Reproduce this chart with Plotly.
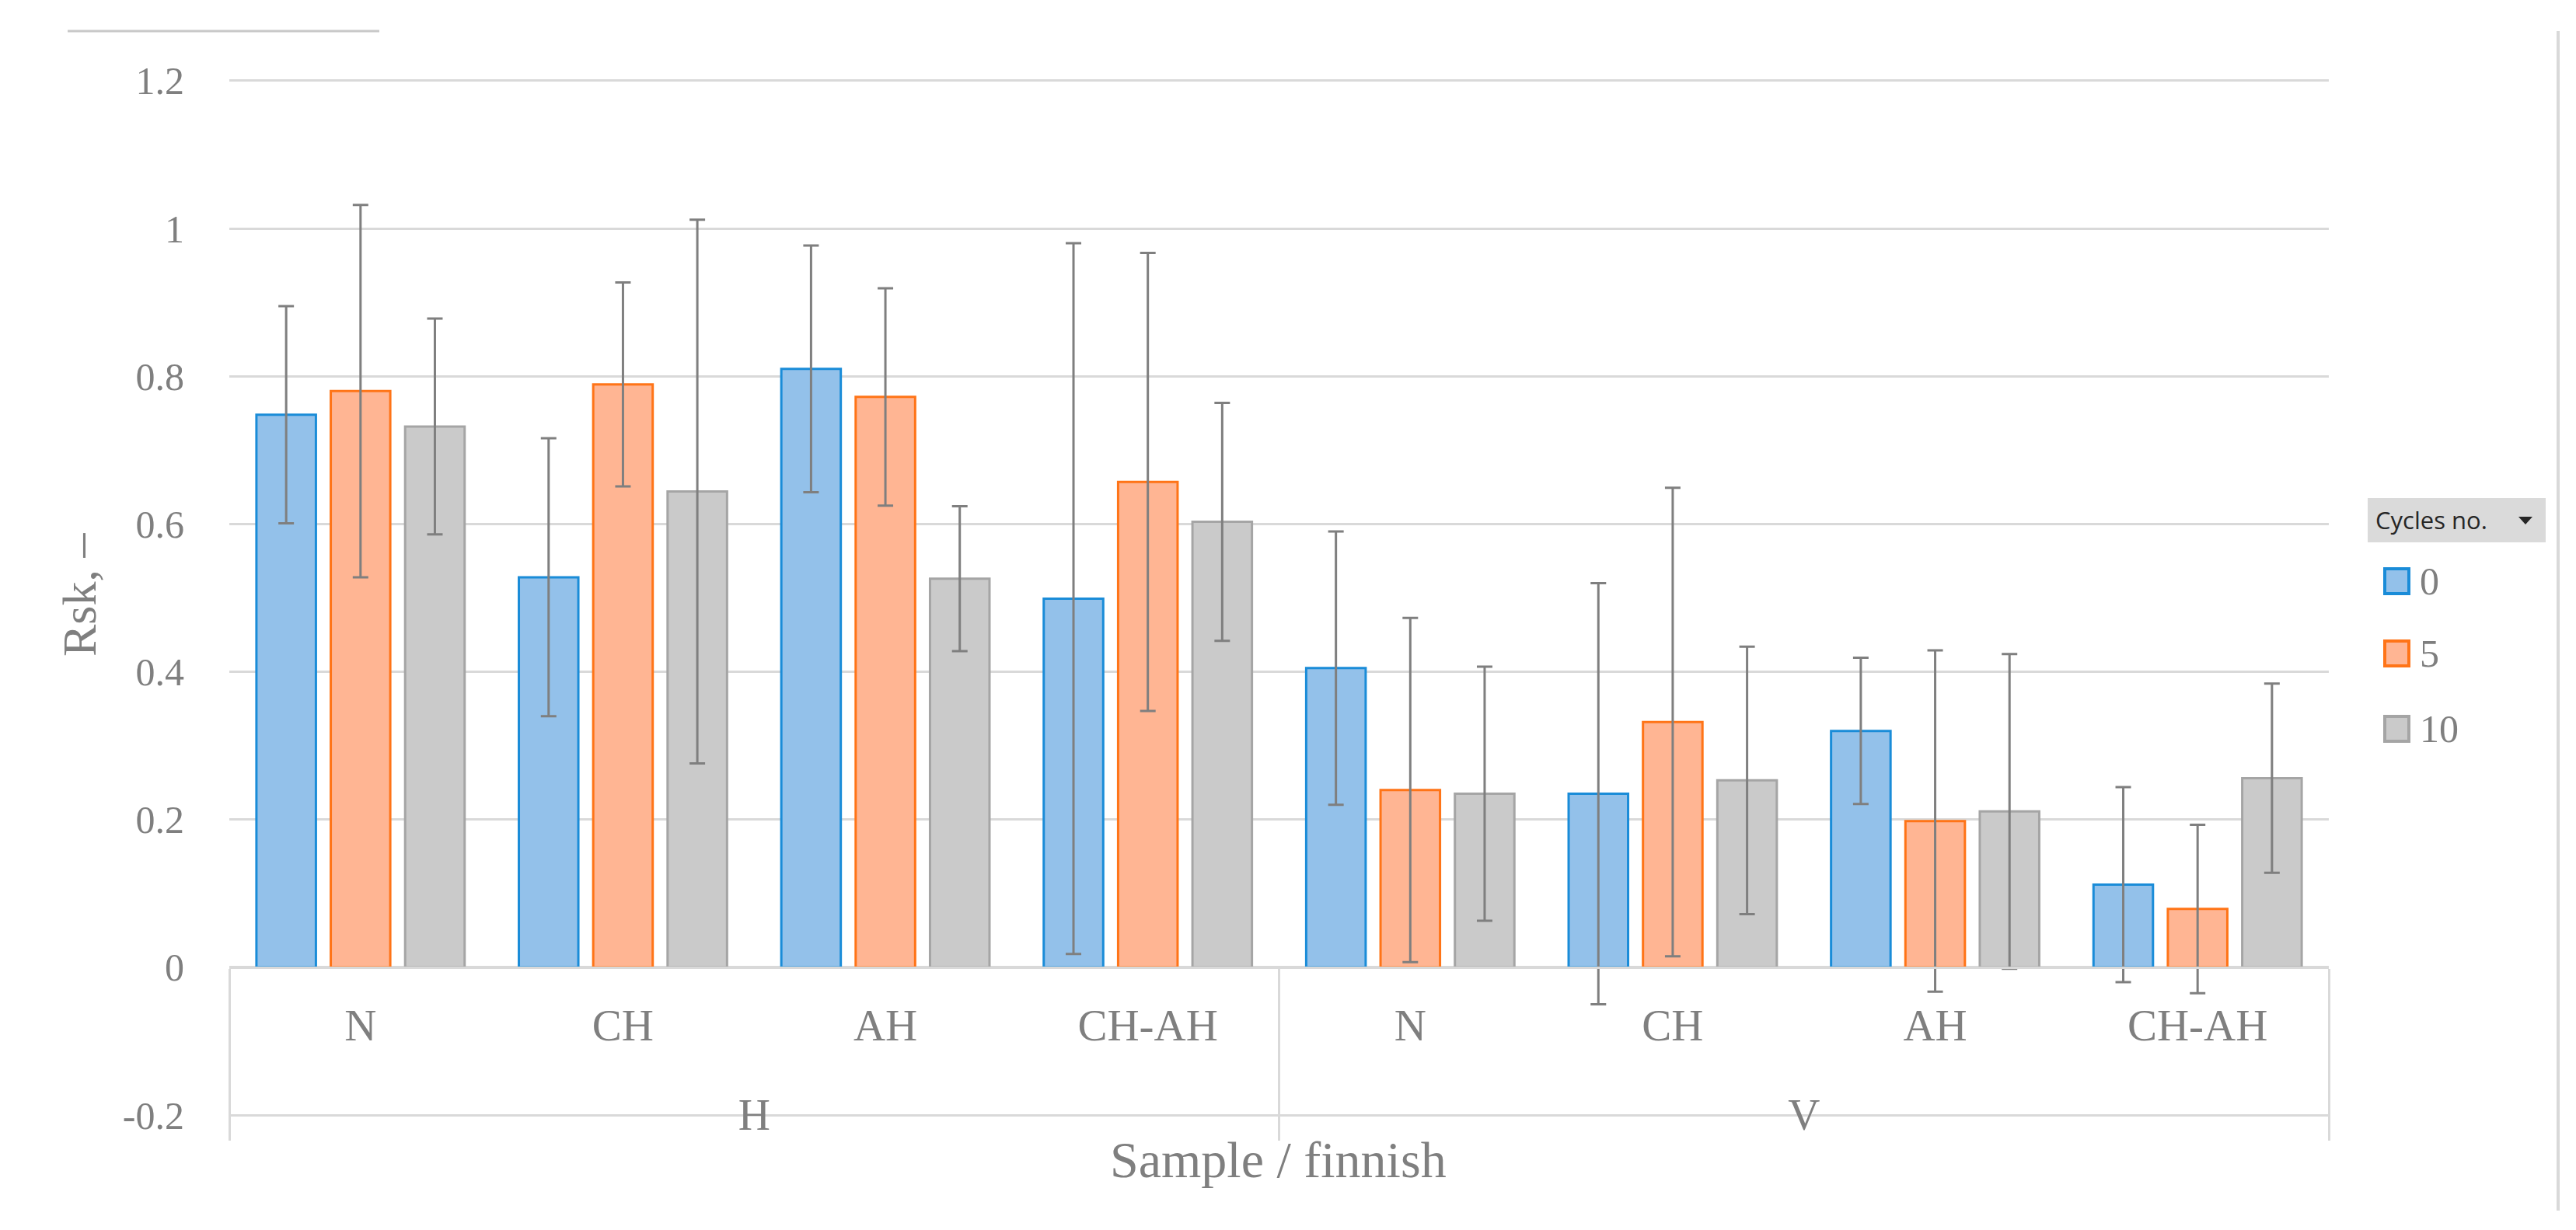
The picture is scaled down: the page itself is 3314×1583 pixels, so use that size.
import plotly.graph_objects as go

# ---- data ----
groups = ["H", "H", "H", "H", "V", "V", "V", "V"]
finishes = ["N", "CH", "AH", "CH-AH", "N", "CH", "AH", "CH-AH"]
cycle_names = ["0", "5", "10"]

rsk_0 = [0.748, 0.528, 0.810, 0.499, 0.405, 0.235, 0.320, 0.112]
err_0 = [0.147, 0.188, 0.167, 0.481, 0.185, 0.285, 0.099, 0.132]

rsk_5 = [0.780, 0.789, 0.772, 0.657, 0.240, 0.332, 0.198, 0.079]
err_5 = [0.252, 0.138, 0.147, 0.310, 0.233, 0.317, 0.231, 0.114]

rsk_10 = [0.732, 0.644, 0.526, 0.603, 0.235, 0.253, 0.211, 0.256]
err_10 = [0.146, 0.368, 0.098, 0.161, 0.172, 0.181, 0.213, 0.128]

y_tickvals = [-0.2, 0, 0.2, 0.4, 0.6, 0.8, 1.0, 1.2]
y_ticktext = ["-0.2", "0", "0.2", "0.4", "0.6", "0.8", "1", "1.2"]

# ---- styles ----
fills = ["#93C1EA", "#FFB593", "#CACACA"]
borders = ["#1A8CD8", "#FF7417", "#A5A5A5"]
GRID = "#D9D9D9"
TXT = "#7F7F7F"
SERIF = "Liberation Serif"

W, H = 3314, 1583
Y0, Y1 = -0.202, 1.202
ML, MR, MT, MB = 287, 326, 94, 154
PW = W - ML - MR
PH = H - MT - MB


def px(xp):
    return (xp - ML) / PW


def py(yp):
    return (H - MB - yp) / PH


# spacing pad around first-level labels so the group row sits lower
PAD = "<span style='font-size:124px'>\u00a0</span>"
finish_labels = [PAD + f + PAD for f in finishes]

fig = go.Figure()
series = [rsk_0, rsk_5, rsk_10]
errors = [err_0, err_5, err_10]
for name, vals, errs, fc, lc in zip(cycle_names, series, errors, fills, borders):
    fig.add_trace(go.Bar(
        x=[groups, finish_labels], y=vals, name=name,
        marker=dict(color=fc, line=dict(color=lc, width=3)),
        error_y=dict(type="data", array=errs, color="#7F7F7F",
                     thickness=3, width=10),
    ))

fig.update_layout(
    width=W, height=H,
    barmode="group", bargap=0.15, bargroupgap=0.2,
    plot_bgcolor="white", paper_bgcolor="white",
    margin=dict(l=ML, r=MR, t=MT, b=MB, autoexpand=False),
    font=dict(family=SERIF, color=TXT),
    showlegend=False,
)

fig.update_yaxes(
    range=[Y0, Y1], tickvals=y_tickvals, ticktext=y_ticktext,
    showgrid=True, gridcolor=GRID, gridwidth=3,
    zeroline=False, showline=False, ticks="",
    tickfont=dict(family=SERIF, size=50, color=TXT),
    ticklabelstandoff=57,
)

fig.update_xaxes(
    type="multicategory", anchor="free", position=(0 - Y0) / (Y1 - Y0),
    showline=True, linecolor=GRID, linewidth=3,
    showdividers=True, dividercolor=GRID, dividerwidth=3,
    showgrid=False, ticks="",
    tickfont=dict(family=SERIF, size=57, color=TXT),
    ticklabelstandoff=24,
)

# axis titles
fig.add_annotation(text="Rsk, \u2013", xref="paper", yref="paper",
                   x=px(94), y=py(758), textangle=-90, showarrow=False,
                   xanchor="center", yanchor="middle",
                   font=dict(family=SERIF, size=62, color=TXT))
fig.add_annotation(text="Sample / finnish", xref="paper", yref="paper",
                   x=px(1636), y=py(1484), showarrow=False,
                   xanchor="center", yanchor="middle",
                   font=dict(family=SERIF, size=66, color=TXT))

# legend (pivot-chart style)
fig.add_shape(type="rect", xref="paper", yref="paper",
              x0=px(3038), x1=px(3267), y0=py(690), y1=py(633),
              fillcolor="#DADADA", line=dict(width=0))
fig.add_shape(type="path", xref="paper", yref="paper",
              path=f"M {px(3232)},{py(657)} L {px(3250)},{py(657)} L {px(3241)},{py(667)} Z",
              fillcolor="#262626", line=dict(width=0))
fig.add_annotation(text="Cycles no.", xref="paper", yref="paper",
                   x=px(3046), y=py(661), xanchor="left", yanchor="middle",
                   showarrow=False,
                   font=dict(family="Open Sans", size=31, color="#262626"))
legend_y = [740, 833, 930]
for name, fc, lc, ly in zip(cycle_names, fills, borders, legend_y):
    fig.add_shape(type="rect", xref="paper", yref="paper",
                  x0=px(3060), x1=px(3091), y0=py(ly + 16), y1=py(ly - 16),
                  fillcolor=fc, line=dict(color=lc, width=4))
    fig.add_annotation(text=name, xref="paper", yref="paper",
                       x=px(3103), y=py(ly), xanchor="left", yanchor="middle",
                       showarrow=False,
                       font=dict(family=SERIF, size=50, color=TXT))

# chart frame fragments
fig.add_shape(type="line", xref="paper", yref="paper",
              x0=px(79), x1=px(480), y0=py(32), y1=py(32),
              line=dict(color="#C8C8C8", width=3))
fig.add_shape(type="line", xref="paper", yref="paper",
              x0=px(3283), x1=px(3283), y0=py(32), y1=py(1550),
              line=dict(color="#D9D9D9", width=4))

fig.write_html("out.html")
